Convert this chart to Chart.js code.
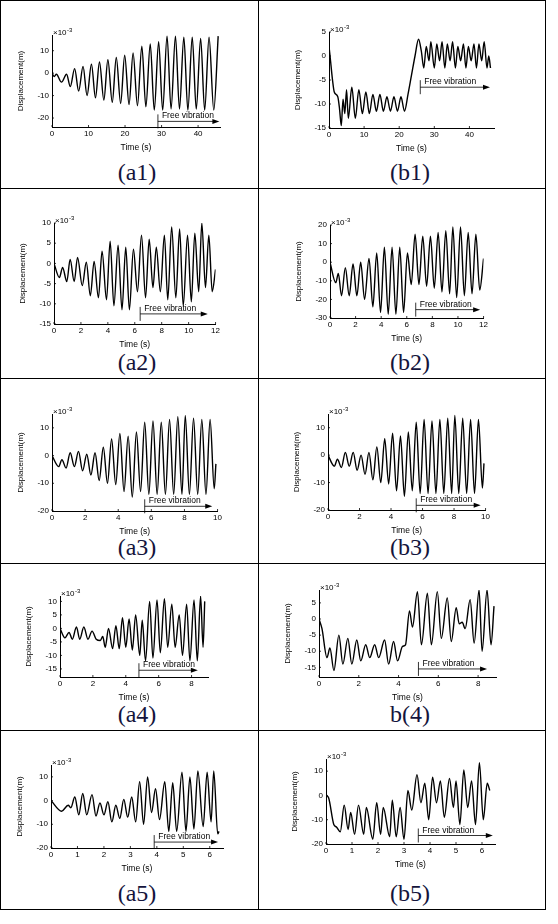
<!DOCTYPE html>
<html>
<head>
<meta charset="utf-8">
<script src="https://cdn.jsdelivr.net/npm/chart.js@4"></script>
<style>
  body { margin: 0; background: #fff; width: 558px; height: 924px; position: relative; overflow: hidden; }
  .ln { position: absolute; background: #000; }
  .cap { position: absolute; width: 120px; text-align: center; font-family: "Liberation Serif", serif; font-size: 24px; color: #14143c; }
  canvas { position: absolute; }
</style>
</head>
<body>
<div id="root"></div>
<script>
// ============================
// DATA (time s, displacement x10^-3 m)
// ============================

const a1Pts = [[0,0],[0.6,-1.5],[1.2,-0.5],[2.6,-4],[4,-0.5],[5,-6],[6.2,2],[7.3,-8],[8.5,3],[9.6,-10],[10.8,4],[11.9,-11],[13,5],[14.2,-12],[15.3,6],[16.5,-13],[17.6,7],[18.8,-13.5],[19.9,8],[21.1,-14],[22.2,9],[23.4,-14.5],[24.6,12],[25.7,-15],[26.9,13],[28,-16.5],[29.2,14],[30.3,-16.5],[31.5,16.5],[32.6,-16],[33.8,16.5],[34.9,-16],[36.1,16],[37.2,-16.5],[38.4,16],[39.5,-16],[40.7,15.5],[41.8,-16.5],[43,16],[44.3,-16.5],[45.5,16.5]];

const b1Pts = [[0,2],[0.3,0],[1,-5],[1.5,-7.5],[2.5,-8.5],[3,-11],[3.5,-14.5],[4,-9],[4.5,-12],[5,-7],[5.5,-13],[6.5,-6.5],[7.5,-13],[8.5,-7],[9.5,-12],[10.5,-7.5],[11.5,-12],[12.5,-8],[13.5,-11.5],[14.5,-8],[15.5,-11.5],[16.5,-8.5],[17.5,-11.5],[18.5,-8.5],[19.5,-11.5],[20.5,-8.5],[21.5,-11.5],[22.5,-8],[23.5,-4],[24.5,0],[25.5,3.5],[26.3,1],[27,-2.5],[27.7,2],[28.5,-1],[29,3],[30,-2.5],[30.7,2.5],[31.5,-1],[32.2,3],[33,-2.5],[33.7,2.5],[34.5,-1],[35.2,3],[36,-2.5],[36.7,2],[37.5,-1],[38.3,2.5],[39,-2.5],[39.7,2],[40.5,-1],[41.3,2.5],[42,-2.5],[42.7,2.5],[43.5,-1],[44.2,3],[45,-2.5],[45.5,0],[46,-2.5]];

const a2Pts = [[0,0],[0.4,-3.5],[0.64,-1],[0.95,-4.5],[1.2,1],[1.5,-4.5],[1.75,1.5],[2.1,-5.5],[2.4,0.3],[2.7,-8],[2.98,0.5],[3.3,-8.5],[3.57,3],[3.9,-9],[4.17,5.5],[4.45,-10.5],[4.76,4.5],[5.05,-11.5],[5.33,4],[5.6,-11.5],[5.9,3.5],[6.2,-7],[6.5,7],[6.8,-8.5],[7.07,6],[7.35,-6],[7.6,4],[7.9,-7],[8.2,7],[8.45,-9],[8.74,9],[9.05,-8.5],[9.33,8.5],[9.6,-10.5],[9.92,7],[10.2,-9.5],[10.46,7.5],[10.75,-7],[10.98,10],[11.25,-6],[11.5,7],[11.75,-7],[12,-1.5]];

const b2Pts = [[0,0],[0.45,-11],[0.65,-6],[0.9,-18],[1.2,-3],[1.5,-18],[1.8,-1],[2.1,-18],[2.4,0],[2.7,-20],[3.05,2],[3.35,-24],[3.65,5],[3.95,-27],[4.25,8],[4.55,-28],[4.85,8],[5.15,-28],[5.45,8],[5.75,-27],[6.05,5],[6.35,-12],[6.65,15],[6.95,-12],[7.25,14],[7.55,-13],[7.85,14],[8.15,-14],[8.45,16],[8.75,-16],[9.05,17],[9.35,-17],[9.6,19],[9.9,-19],[10.2,19],[10.5,-18],[10.8,16],[11.1,-17],[11.4,15],[11.7,-15],[12,2]];

const a3Pts = [[0,0],[0.4,-4],[0.6,-1.5],[0.85,-4.5],[1.1,1],[1.35,-4],[1.6,1.5],[1.85,-5.5],[2.1,0.5],[2.35,-7],[2.6,1],[2.85,-9],[3.1,3],[3.35,-10],[3.6,6],[3.85,-10.5],[4.1,8],[4.35,-13],[4.6,7],[4.85,-15],[5.1,8.5],[5.35,-13],[5.6,12],[5.85,-14],[6.1,12.5],[6.35,-14],[6.6,12],[6.85,-14],[7.1,13],[7.35,-14],[7.6,14],[7.85,-14],[8.05,14.5],[8.3,-14],[8.55,13.5],[8.8,-14],[9.05,13],[9.3,-14],[9.55,13],[9.8,-12],[9.9,-3]];

const b3Pts = [[0,0],[0.4,-4],[0.6,-1.5],[0.85,-4.5],[1.1,1],[1.35,-4],[1.6,1],[1.85,-5.5],[2.1,0],[2.35,-7],[2.6,1],[2.85,-9],[3.1,3],[3.35,-10],[3.6,6],[3.85,-10.5],[4.1,8],[4.35,-13],[4.6,7],[4.85,-15],[5.1,8.5],[5.35,-13],[5.6,12],[5.85,-14],[6.1,13],[6.35,-14],[6.6,12.5],[6.85,-14],[7.1,13],[7.35,-14],[7.6,13.5],[7.85,-14],[8.05,14.5],[8.3,-14],[8.55,13.5],[8.8,-14],[9.05,13],[9.3,-14],[9.55,13],[9.8,-12],[9.9,-3]];

const a4Pts = [[0,0],[0.3,-3.5],[0.55,-1.5],[0.75,-4],[1.0,0.5],[1.2,-4],[1.45,0.5],[1.7,-4],[1.95,-1],[2.2,-4],[2.45,-4.5],[2.6,-3],[2.75,-7],[2.95,0],[3.2,-7.5],[3.4,1],[3.6,-7.5],[3.8,4],[4.0,-7],[4.2,3.5],[4.4,-8],[4.6,5],[4.85,-10],[5.0,3],[5.2,-12],[5.45,10],[5.65,-11],[5.9,10.5],[6.1,-9],[6.35,11],[6.55,-7],[6.8,9],[7.0,-7],[7.25,5],[7.45,-10],[7.7,9],[7.9,-12],[8.15,10.5],[8.35,-12],[8.55,12],[8.7,-7],[8.8,10]];

const b4Pts = [[0,0],[0.15,-3],[0.4,-12],[0.55,-9],[0.75,-16],[1.0,-5],[1.2,-14],[1.45,-6],[1.65,-14],[1.9,-6.5],[2.1,-13],[2.35,-8],[2.55,-12],[2.8,-8],[3.0,-12],[3.3,-6.5],[3.5,-14],[3.75,-7],[3.95,-13],[4.2,-8.5],[4.35,-8],[4.55,2.5],[4.7,-2.5],[4.95,8.5],[5.15,-8],[5.45,8],[5.65,-8],[5.95,8.5],[6.15,-6],[6.45,6.5],[6.65,-7],[6.9,3.5],[7.05,-1.5],[7.2,-1],[7.35,-3],[7.6,6],[7.8,-7.5],[8.05,9],[8.2,-10],[8.45,9],[8.65,-8],[8.8,4]];

const a5Pts = [[0,0],[0.4,-4.5],[0.65,-2],[0.75,-3],[0.9,1.5],[1.05,-6],[1.2,3],[1.35,-6],[1.55,2.5],[1.7,-6.5],[1.85,-1],[2.0,-6],[2.15,-0.5],[2.3,-9],[2.45,-2],[2.6,-7.5],[2.75,0.5],[2.9,-7],[3.05,1.5],[3.2,-9],[3.35,8],[3.5,-10],[3.65,10],[3.8,-5],[3.95,5],[4.1,-8],[4.3,8],[4.45,-13],[4.6,7.5],[4.75,-13],[4.95,12],[5.1,-13],[5.25,10],[5.4,-12],[5.55,12.5],[5.75,-11],[5.9,12],[6.05,-9],[6.15,12.5],[6.3,-14],[6.35,-13]];

const b5Pts = [[0,0],[0.1,-1],[0.3,-12],[0.4,-13],[0.55,-15],[0.7,-4],[0.85,-14],[0.95,-7],[1.1,-16],[1.25,-4],[1.45,-16],[1.55,-5],[1.8,-18],[1.95,-3],[2.1,-16],[2.2,-5],[2.45,-17],[2.55,-2],[2.7,-17],[2.85,-5],[3.0,-18],[3.15,2],[3.3,-6],[3.5,8.5],[3.65,-3],[3.8,5],[3.95,-10],[4.1,7.5],[4.25,-3],[4.4,6],[4.55,-9],[4.75,7],[4.9,-5],[5.0,6],[5.15,-12],[5.3,10.5],[5.45,-5],[5.6,6],[5.75,-12],[5.9,13.5],[6.05,-10],[6.2,5],[6.3,2]];

// axis ticks
const xTicks46 = [0, 10, 20, 30, 40];
const xTicks12 = [0, 2, 4, 6, 8, 10, 12];
const xTicks10 = [0, 2, 4, 6, 8, 10];
const xTicks8 = [0, 2, 4, 6, 8];
const xTicks6 = [0, 1, 2, 3, 4, 5, 6];
const yTicksA1 = [-20, -10, 0, 10];
const yTicksB1 = [-15, -10, -5, 0, 5];
const yTicksA2 = [-15, -10, -5, 0, 5, 10];
const yTicksB2 = [-30, -20, -10, 0, 10, 20];
const yTicks20 = [-20, -10, 0, 10];
const yTicksA4 = [-15, -10, -5, 0, 5, 10];
const yTicksB4 = [-15, -10, -5, 0, 5];

const captions = ["(a1)", "(b1)", "(a2)", "(b2)", "(a3)", "(b3)", "(a4)", "b(4)", "(a5)", "(b5)"];

// ============================
// PANELS
// ============================

// area: [left, top, right, bottom] of plot area in page px
const panels = [
  { pts: a1Pts, x: [0, 46], y: [-24, 17], xt: xTicks46, yt: yTicksA1, area: [52, 35, 220, 127], fv: [29, 45, -21.5] },
  { pts: b1Pts, x: [0, 47], y: [-15, 5], xt: xTicks46, yt: yTicksB1, area: [329, 32, 494, 128], fv: [26, 45, -6.5] },
  { pts: a2Pts, x: [0, 12], y: [-15, 10], xt: xTicks12, yt: yTicksA2, area: [54, 223, 216, 324], fv: [6.4, 11.2, -12.5] },
  { pts: b2Pts, x: [0, 12], y: [-30, 20], xt: xTicks12, yt: yTicksB2, area: [330, 225, 484, 318], fv: [6.7, 11.5, -25.5] },
  { pts: a3Pts, x: [0, 10], y: [-20, 15], xt: xTicks10, yt: yTicks20, area: [52, 414, 218, 511], fv: [5.6, 9.5, -18.3] },
  { pts: b3Pts, x: [0, 10], y: [-20, 15], xt: xTicks10, yt: yTicks20, area: [328, 414, 486, 510], fv: [5.6, 9.5, -18.3] },
  { pts: a4Pts, x: [0, 9], y: [-18, 12], xt: xTicks8, yt: yTicksA4, area: [60, 596, 208, 677], fv: [4.8, 8.2, -15.5] },
  { pts: b4Pts, x: [0, 8.9], y: [-18, 9], xt: xTicks8, yt: yTicksB4, area: [319, 590, 496, 677], fv: [5.0, 8.3, -15.5] },
  { pts: a5Pts, x: [0, 6.5], y: [-20, 15], xt: xTicks6, yt: yTicks20, area: [51, 765, 223, 848], fv: [3.9, 6.2, -17.5] },
  { pts: b5Pts, x: [0, 6.5], y: [-20, 15], xt: xTicks6, yt: yTicks20, area: [326, 759, 495, 844], fv: [3.55, 6.3, -16.5] }
];

const rowLines = [188, 378, 563, 730, 909];

const root = document.getElementById("root");

function addLine(l, t, w, h) {
  const d = document.createElement("div");
  d.className = "ln";
  d.style.cssText = `left:${l}px;top:${t}px;width:${w}px;height:${h}px`;
  root.appendChild(d);
}

// table frame
addLine(0, 0, 546, 1);
addLine(0, 0, 1, 910);
addLine(545, 0, 1, 910);
addLine(258, 0, 1, 910);
rowLines.forEach(y => addLine(0, y, 546, 1));

// captions
captions.forEach((c, i) => {
  const d = document.createElement("div");
  d.className = "cap";
  d.textContent = c;
  const row = Math.floor(i / 2);
  d.style.left = (i % 2 === 0 ? 77 : 350) + "px";
  d.style.top = (rowLines[row] - 29) + "px";
  root.appendChild(d);
});

const tickFont = { family: "Liberation Sans, Arial", size: 8 };

// x10^-3 label + free vibration arrow + small inward ticks
const extrasPlugin = {
  id: "extras",
  afterDraw(chart) {
    const ctx = chart.ctx;
    const a = chart.chartArea;
    const fv = chart.options.plugins.extras.fv;
    const xs = chart.scales.x, ys = chart.scales.y;
    ctx.save();
    ctx.fillStyle = "#000";
    ctx.strokeStyle = "#000";
    ctx.lineWidth = 0.8;

    ctx.beginPath();
    xs.ticks.forEach(t => {
      const px = xs.getPixelForValue(t.value);
      ctx.moveTo(px, a.bottom);
      ctx.lineTo(px, a.bottom - 2);
    });
    ys.ticks.forEach(t => {
      const py = ys.getPixelForValue(t.value);
      ctx.moveTo(a.left, py);
      ctx.lineTo(a.left + 2, py);
    });
    ctx.stroke();

    ctx.font = "8px Liberation Sans, Arial";
    ctx.textBaseline = "bottom";
    ctx.fillText("\u00d710", a.left + 1, a.top + 2);
    ctx.font = "6px Liberation Sans, Arial";
    ctx.fillText("-3", a.left + 15, a.top - 2);

    const x0 = xs.getPixelForValue(fv[0]);
    const x1 = xs.getPixelForValue(fv[1]);
    const y0 = ys.getPixelForValue(fv[2]);
    ctx.beginPath();
    ctx.moveTo(x0, y0 - 7);
    ctx.lineTo(x0, y0 + 7);
    ctx.moveTo(x0, y0);
    ctx.lineTo(x1, y0);
    ctx.stroke();
    ctx.beginPath();
    ctx.moveTo(x1 + 3, y0);
    ctx.lineTo(x1 - 4, y0 - 2.5);
    ctx.lineTo(x1 - 4, y0 + 2.5);
    ctx.closePath();
    ctx.fill();
    ctx.font = "8.5px Liberation Sans, Arial";
    ctx.fillText("Free vibration", x0 + 4, y0 - 1);
    ctx.restore();
  }
};

panels.forEach(p => {
  const [l, t, r, b] = p.area;
  const yW = 36, xH = 26, padT = 12, padR = 6;
  const c = document.createElement("canvas");
  const w = r - l + yW + padR, h = b - t + padT + xH;
  c.style.left = (l - yW) + "px";
  c.style.top = (t - padT) + "px";
  c.style.width = w + "px";
  c.style.height = h + "px";
  c.width = w;
  c.height = h;
  root.appendChild(c);

  new Chart(c, {
    type: "line",
    data: {
      datasets: [{
        data: p.pts.map(q => ({ x: q[0], y: q[1] })),
        borderColor: "#000",
        borderWidth: 1.4,
        pointRadius: 0,
        cubicInterpolationMode: "monotone",
        fill: false
      }]
    },
    options: {
      responsive: false,
      animation: false,
      layout: { padding: { top: padT, right: padR, left: 0, bottom: 0 } },
      plugins: {
        legend: { display: false },
        tooltip: { enabled: false },
        extras: { fv: p.fv }
      },
      scales: {
        x: {
          type: "linear",
          min: p.x[0],
          max: p.x[1],
          afterBuildTicks: s => { s.ticks = p.xt.map(v => ({ value: v })); },
          afterFit: s => { s.height = xH; },
          grid: { display: false, drawTicks: false },
          border: { display: true, color: "#000", width: 1 },
          ticks: { color: "#000", font: tickFont, padding: 2, maxRotation: 0 },
          title: { display: true, text: "Time (s)", color: "#000", font: { family: "Liberation Sans, Arial", size: 8.5 }, padding: 0 }
        },
        y: {
          min: p.y[0],
          max: p.y[1],
          afterBuildTicks: s => { s.ticks = p.yt.map(v => ({ value: v })); },
          afterFit: s => { s.width = yW; },
          grid: { display: false, drawTicks: false },
          border: { display: true, color: "#000", width: 1 },
          ticks: { color: "#000", font: tickFont, padding: 3 },
          title: { display: true, text: "Displacement(m)", color: "#000", font: { family: "Liberation Sans, Arial", size: 8 }, padding: 0 }
        }
      }
    },
    plugins: [extrasPlugin]
  });
});
</script>
</body>
</html>
